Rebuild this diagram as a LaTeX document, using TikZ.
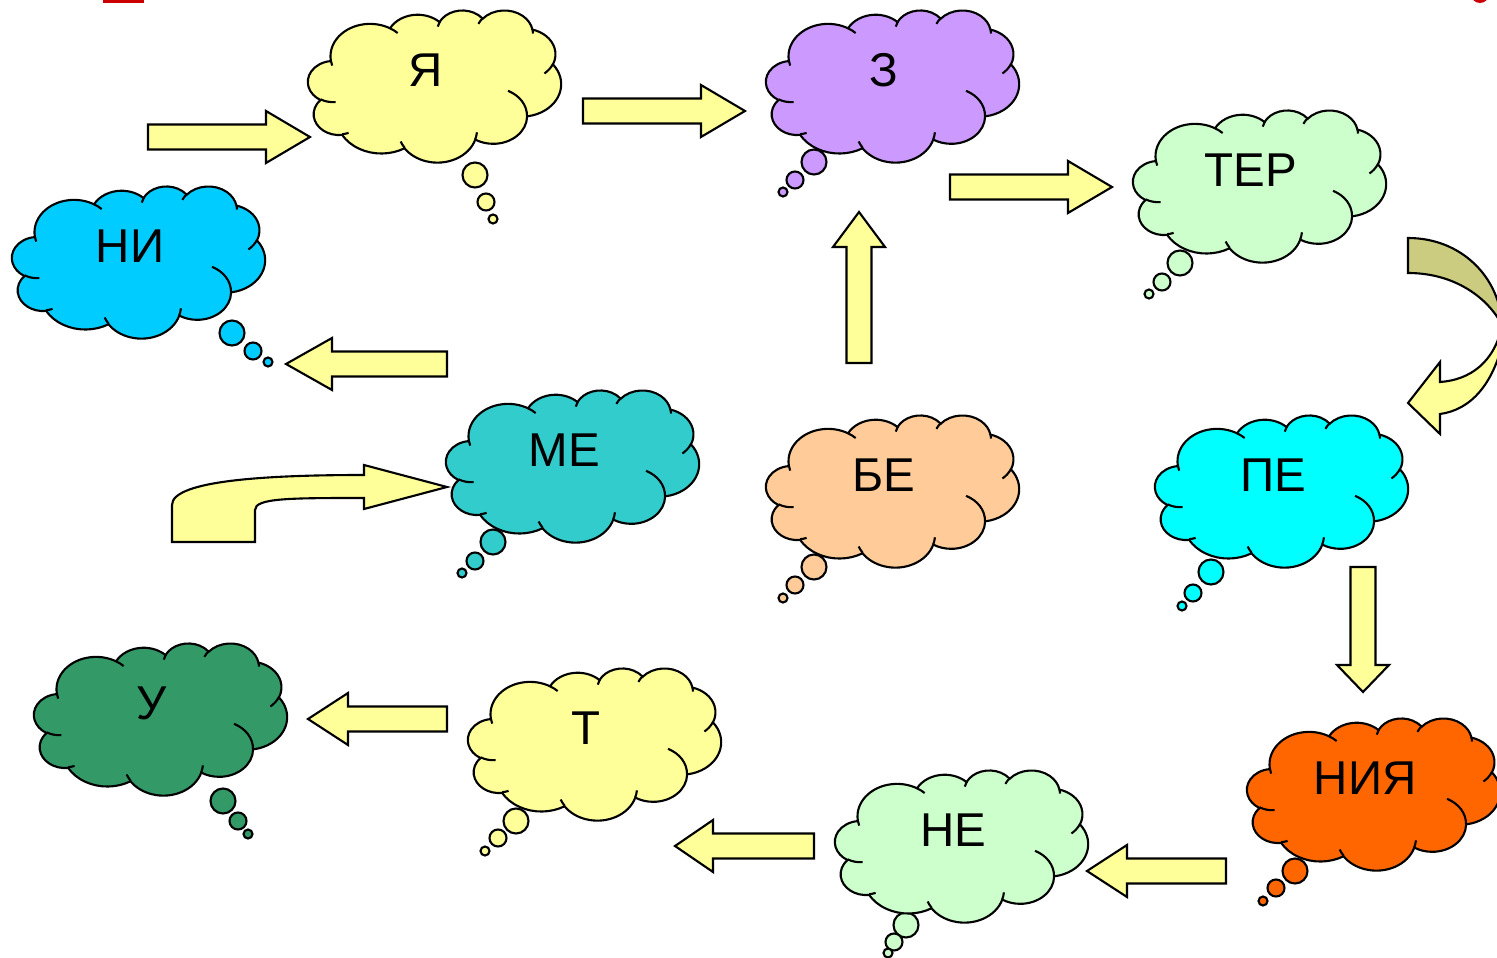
\documentclass[tikz,border=0pt]{standalone}
\usepackage{fontspec}
\setmainfont{Liberation Sans}
\usetikzlibrary{calc}

\definecolor{lemon}{HTML}{FFFF99}
\definecolor{lilac}{HTML}{CC99FF}
\definecolor{mint}{HTML}{CCFFCC}
\definecolor{sky}{HTML}{00CCFF}
\definecolor{tealc}{HTML}{33CCCC}
\definecolor{peach}{HTML}{FFCC99}
\definecolor{aqua}{HTML}{00FFFF}
\definecolor{tangerine}{HTML}{FF6600}
\definecolor{forest}{HTML}{339966}
\definecolor{backside}{HTML}{CCCC80}
\definecolor{redmark}{HTML}{CC0000}

\tikzset{syll/.style={font=\fontsize{13.5}{16}\selectfont, inner sep=0pt},
  blockarrow/.style={draw=black, fill=lemon}}

% name, top-left corner, fill, text, tail bubbles x/y/r
\newcommand{\thoughtcloud}[5]{%
  \foreach \x/\y/\r in {#5}
    \filldraw[fill=#3] (\x,\y) circle[radius=\r];
  \begin{scope}[shift={#2}, x=0.5856mm, y=-0.3519mm]
    \filldraw[fill=#3] (3.9,14.37)
      arc[start angle=-187.75, delta angle=128.08, x radius=6.753, y radius=9.19]
      arc[start angle=-151.98, delta angle=106.44, x radius=5.333, y radius=7.267]
      arc[start angle=-153.46, delta angle=116.10, x radius=4.365, y radius=5.945]
      arc[start angle=-139.76, delta angle=129.57, x radius=4.857, y radius=6.595]
      arc[start angle=-74.79, delta angle=98.05, x radius=5.333, y radius=7.273]
      arc[start angle=-37.54, delta angle=119.40, x radius=6.775, y radius=9.22]
      arc[start angle=0.46, delta angle=121.51, x radius=5.785, y radius=7.867]
      arc[start angle=16.89, delta angle=129.26, x radius=6.752, y radius=9.215]
      arc[start angle=59.13, delta angle=90.94, x radius=7.72, y radius=10.543]
      arc[start angle=83.29, delta angle=139.74, x radius=4.36, y radius=5.918]
      arc[start angle=120.18, delta angle=143.96, x radius=4.345, y radius=5.945]
      -- cycle;
    \draw (4.693,26.177) arc[start angle=85.55, delta angle=34.79, x radius=4.345, y radius=5.945]
      (6.928,34.899) arc[start angle=68.25, delta angle=15.05, x radius=4.36, y radius=5.918]
      (16.478,39.09) arc[start angle=146.24, delta angle=12.23, x radius=6.752, y radius=9.215]
      (28.827,34.751) arc[start angle=4.74, delta angle=12.11, x radius=6.752, y radius=9.215]
      (34.129,22.954) arc[start angle=-63.99, delta angle=64.45, x radius=5.785, y radius=7.867]
      (41.798,15.354) arc[start angle=23.21, delta angle=26.44, x radius=5.333, y radius=7.273]
      (38.324,5.426) arc[start angle=-10.21, delta angle=11.03, x radius=4.857, y radius=6.595]
      (29.078,3.952) arc[start angle=-156.28, delta angle=16.58, x radius=4.857, y radius=6.595]
      (22.141,4.72) arc[start angle=-167.73, delta angle=14.25, x radius=4.365, y radius=5.945]
      (14.0,5.192) arc[start angle=-59.66, delta angle=13.92, x radius=6.753, y radius=9.19]
      (4.127,15.789) arc[start angle=163.19, delta angle=9.06, x radius=6.753, y radius=9.19];
    \node[syll] (#1) at (20.15,17.05) {#4};
  \end{scope}}

% straight block arrow from #2 to #3, head length #1
\newcommand{\blockarrow}[3][4.4mm]{%
  \coordinate (hb) at ($(#3)!#1!(#2)$);
  \filldraw[blockarrow] ($(#2)!1.25mm!90:(#3)$) -- ($(hb)!1.25mm!-90:(#2)$)
    -- ($(hb)!2.6mm!-90:(#2)$) -- (#3) -- ($(hb)!2.6mm!90:(#2)$)
    -- ($(hb)!1.25mm!90:(#2)$) -- ($(#2)!1.25mm!-90:(#3)$) -- cycle;}

\begin{document}
\begin{tikzpicture}[x=0.01cm, y=-0.01cm, line width=0.6pt]
\useasboundingbox (0,0) rectangle (1497,958);
\clip (0,0) rectangle (1497,958);

\fill[redmark] (103,-5) rectangle (144,3);
\fill[redmark] (1480,-6) circle[radius=9];

% clouds
\thoughtcloud{ya}{(308,10)}{lemon}{Я}{475/175/12.5, 486/202/8.5, 493/219/4.5}
\thoughtcloud{ze}{(766,10)}{lilac}{З}{814/162/12.5, 795/180/8.5, 783/192/4.5}
\thoughtcloud{ter}{(1133,110)}{mint}{ТЕР}{1180/263/12.5, 1162/282/8.5, 1149/294/4.5}
\thoughtcloud{ni}{(12,186)}{sky}{НИ}{232/333/12.5, 253/351/8.5, 268/362/4.5}
\thoughtcloud{me}{(446,390)}{tealc}{МЕ}{493/542/12.5, 475/561/8.5, 462/573/4.5}
\thoughtcloud{be}{(766,415)}{peach}{БЕ}{814/567/12.5, 795/585/8.5, 783/598/4.5}
\thoughtcloud{pe}{(1155,415)}{aqua}{ПЕ}{1211/572/12.5, 1193/593/8.5, 1182/606/4.5}
\thoughtcloud{niya}{(1247,718)}{tangerine}{НИЯ}{1295/871/12.5, 1276/888/8.5, 1263/901/4.5}
\thoughtcloud{ne}{(835,770)}{mint}{НЕ}{906/925/12.5, 894/942/8.5, 888/953/4.5}
\thoughtcloud{te}{(468,668)}{lemon}{Т}{516/821/12.5, 498/838/8.5, 485/851/4.5}
\thoughtcloud{u}{(34,643)}{forest}{У}{223/801/12.5, 238/821/8.5, 248/834/4.5}

% straight arrows
\coordinate (a1s) at (148,137); \coordinate (a1e) at (310,137);
\coordinate (a2s) at (583,111); \coordinate (a2e) at (745,111);
\coordinate (a3s) at (950,187); \coordinate (a3e) at (1112,187);
\coordinate (a4s) at (859,363); \coordinate (a4e) at (859,212);
\coordinate (a5s) at (447,364); \coordinate (a5e) at (286,364);
\coordinate (a6s) at (1363,567); \coordinate (a6e) at (1363,692);
\coordinate (a7s) at (1226,871); \coordinate (a7e) at (1087,871);
\coordinate (a8s) at (814,846); \coordinate (a8e) at (675,846);
\coordinate (a9s) at (447,719); \coordinate (a9e) at (308,719);
\blockarrow{a1s}{a1e}
\blockarrow{a2s}{a2e}
\blockarrow{a3s}{a3e}
\blockarrow[3.5mm]{a4s}{a4e}
\blockarrow[4.6mm]{a5s}{a5e}
\blockarrow[2.7mm]{a6s}{a6e}
\blockarrow[4mm]{a7s}{a7e}
\blockarrow[3.8mm]{a8s}{a8e}
\blockarrow[4mm]{a9s}{a9e}

% bent arrow into ME
\filldraw[blockarrow] (172,542) -- (172,505) .. controls (172,480) and (270,475) .. (364,475)
  -- (364,465) -- (447,487) -- (364,509) -- (364,498)
  .. controls (290,498) and (255,498) .. (255,510) -- (255,542) -- cycle;

% curved arrow from TER to PE
\filldraw[draw=black, fill=backside] (1408,238) .. controls (1462,238) and (1500,278) .. (1502,325)
  .. controls (1488,298) and (1455,273) .. (1408,273) -- cycle;
\filldraw[blockarrow] (1502,325) .. controls (1495,362) and (1470,380) .. (1440,382)
  -- (1440,362) -- (1408,403) -- (1440,434) -- (1440,414)
  .. controls (1470,410) and (1495,385) .. (1505,332) -- cycle;
\end{tikzpicture}
\end{document}
